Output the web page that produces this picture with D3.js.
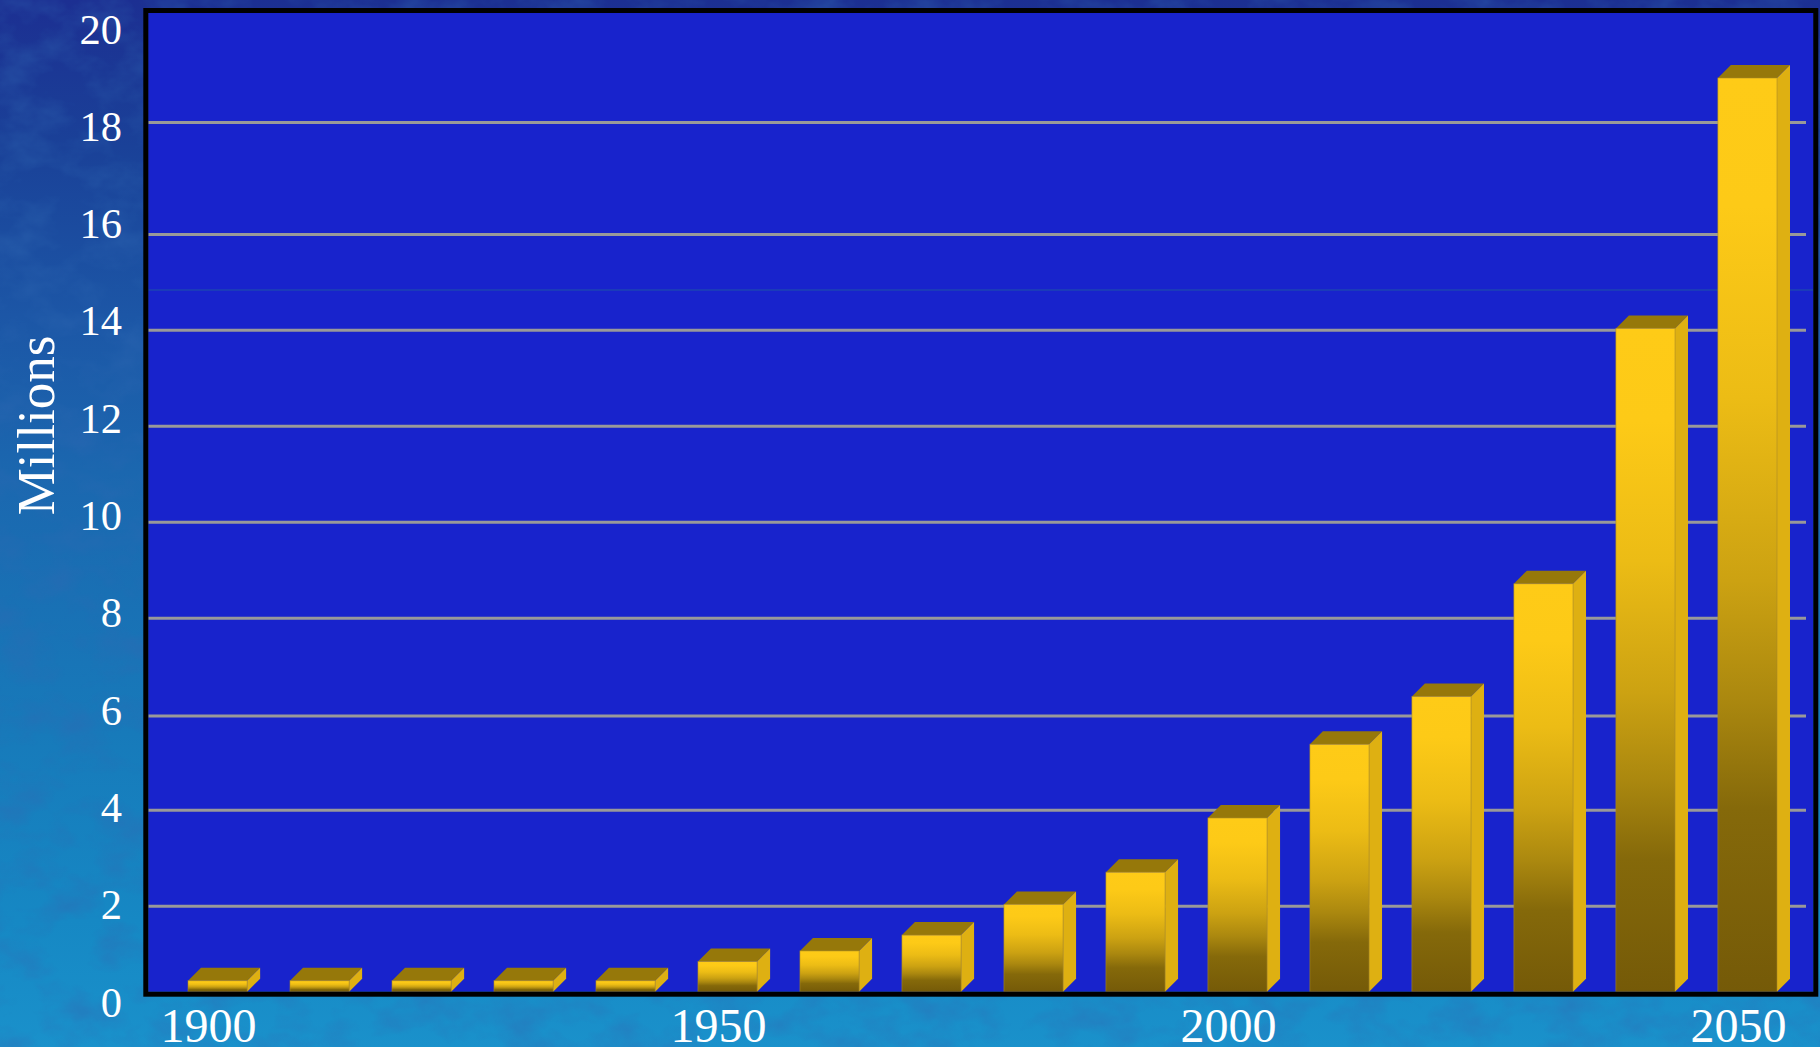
<!DOCTYPE html>
<html>
<head>
<meta charset="utf-8">
<script src="https://cdn.jsdelivr.net/npm/d3@7"></script>
<style>
html,body{margin:0;padding:0;background:#1a6fb5;overflow:hidden}
svg{display:block}
text{font-family:"Liberation Serif",serif;fill:#fff}
</style>
</head>
<body>
<div id="chart"></div>
<script>
const years = [1900,1910,1920,1930,1940,1950,1960,1970,1980,1990,2000,2010,2020,2030,2040,2050];
const millions = [0.45,0.45,0.45,0.45,0.45,0.85,1.07,1.4,2.04,2.71,3.84,5.4,6.4,8.72,14.04,19];
const yTicks = [0,2,4,6,8,10,12,14,16,18,20];
const gridTicks = [2,4,6,8,10,12,14,16,18];
const xTicks = [1900,1950,2000,2050];
const yAxisTitle = "Millions";

const W = 1820, H = 1047;
const plot = {left:148.3, right:1813.3, top:13, bottom:991.7};
const depthX = 13, depthY = 13;

const svg = d3.select("#chart").append("svg").attr("width",W).attr("height",H).attr("viewBox",[0,0,W,H]);
const defs = svg.append("defs");

const bg = defs.append("linearGradient").attr("id","bg").attr("x1",0).attr("y1",0).attr("x2",0).attr("y2",1);
[[0,"#1c2f92"],[.14,"#1a4198"],[.3,"#1c56a6"],[.45,"#1b67af"],[.7,"#177aba"],[.88,"#1688c4"],[1,"#1a91cb"]]
  .forEach(([o,c])=>bg.append("stop").attr("offset",o).attr("stop-color",c));

const noise = defs.append("filter").attr("id","mottle").attr("x",0).attr("y",0).attr("width","100%").attr("height","100%");
noise.append("feTurbulence").attr("type","fractalNoise").attr("baseFrequency","0.02 0.03").attr("numOctaves",4).attr("seed",7);
noise.append("feColorMatrix").attr("type","matrix").attr("values","0 0 0 0 0.03  0 0 0 0 0.14  0 0 0 0 0.45  2.4 0 0 0 -1.0");

const front = defs.append("linearGradient").attr("id","front").attr("x1",0).attr("y1",0).attr("x2",0).attr("y2",1);
[[0,"#fecb17"],[.14,"#fdca17"],[.35,"#ecbc15"],[.55,"#cca212"],[.68,"#ab880f"],[.8,"#85690a"],[1,"#755a08"]]
  .forEach(([o,c])=>front.append("stop").attr("offset",o).attr("stop-color",c));

svg.append("rect").attr("width",W).attr("height",H).attr("fill","url(#bg)");
svg.append("rect").attr("width",W).attr("height",H).attr("filter","url(#mottle)").attr("opacity",.38);

// plot background
svg.append("rect").attr("x",plot.left).attr("y",plot.top)
  .attr("width",plot.right-plot.left).attr("height",plot.bottom-plot.top).attr("fill","#1823cc");

// scales: the picture's own gridline spacing is uneven above the 16 line
const y = d3.scaleLinear().domain(yTicks).range([1002.3,906.3,810.3,716,618.3,522.3,426.3,330.3,234.4,122.5,33.5]);
const labelY = d3.scaleLinear().domain([0,20]).range([1016,43]);
const x = d3.scaleBand().domain(years).range([188,1777]).paddingInner(.42).paddingOuter(0);

// seam
svg.append("line").attr("x1",plot.left).attr("x2",plot.right).attr("y1",290).attr("y2",290)
  .attr("stroke","#1c55a6").attr("stroke-width",1);

// gridlines
svg.append("g").selectAll("line").data(gridTicks).join("line")
  .attr("x1",plot.left).attr("x2",1806)
  .attr("y1",d=>y(d)).attr("y2",d=>y(d))
  .attr("stroke","#999999").attr("stroke-width",3);

// bars
const rows = years.map((yr,i)=>({yr,v:millions[i]}));
const bars = svg.append("g").selectAll("g").data(rows).join("g");
const bw = x.bandwidth();
bars.append("path").attr("fill","#96780a")
  .attr("d",d=>{const l=x(d.yr),t=y(d.v);return `M${l},${t}L${l+depthX},${t-depthY}L${l+bw+depthX},${t-depthY}L${l+bw},${t}Z`;});
bars.append("path").attr("fill","#deb012")
  .attr("d",d=>{const r=x(d.yr)+bw,t=y(d.v);return `M${r},${t}L${r+depthX},${t-depthY}L${r+depthX},${plot.bottom-depthY}L${r},${plot.bottom}Z`;});
bars.append("rect").attr("fill","url(#front)")
  .attr("x",d=>x(d.yr)).attr("y",d=>y(d.v)).attr("width",bw).attr("height",d=>plot.bottom-y(d.v))
  .attr("stroke","#a8892a").attr("stroke-opacity",.55).attr("stroke-width",1);

// frame
svg.append("rect").attr("x",plot.left-2.5).attr("y",plot.top-2.5)
  .attr("width",plot.right-plot.left+5).attr("height",plot.bottom-plot.top+5)
  .attr("fill","none").attr("stroke","#000").attr("stroke-width",5);

// axes
const ay = svg.append("g").attr("transform","translate(122,0)")
  .call(d3.axisLeft(labelY).tickValues(yTicks).tickSize(0).tickPadding(0));
ay.select(".domain").remove();
ay.selectAll("text").attr("dy",0).attr("x",0).attr("font-size",42.5).style("font-family",'"Liberation Serif",serif').attr("fill","#fff");

const ax = svg.append("g").attr("transform","translate(-9,1041.7)")
  .call(d3.axisBottom(x).tickValues(xTicks).tickSize(0).tickPadding(0));
ax.select(".domain").remove();
ax.selectAll("text").attr("y",0).attr("dy",0).attr("font-size",48).style("font-family",'"Liberation Serif",serif').attr("fill","#fff");

svg.append("text").attr("transform","translate(53.5,425.5) rotate(-90)")
  .attr("text-anchor","middle").attr("font-size",53).text(yAxisTitle);
</script>
</body>
</html>
